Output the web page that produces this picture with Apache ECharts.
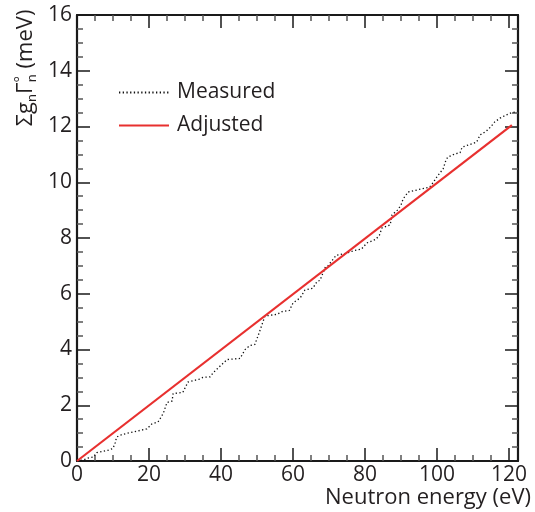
<!DOCTYPE html>
<html>
<head>
<meta charset="utf-8">
<script src="https://cdn.jsdelivr.net/npm/echarts@6/dist/echarts.min.js"></script>
<style>html,body{margin:0;padding:0;background:#fff}#c{width:535px;height:512px}</style>
</head>
<body>
<div id="c"></div>
<script>
// Measured cumulative sum (energy in eV, sum in meV)
var measuredE = [0, 2, 3, 4.5, 5.5, 8.5, 10, 10.6, 11, 12.5, 15.5, 19.4, 20.8, 22.5, 23, 24, 25, 26.4, 26.7, 29.4,
  30.8, 34, 35, 37, 37.8, 39.7, 41.7, 45.3, 46.7, 48, 49.4, 50.6, 52.2, 55.5, 57, 59, 60, 62, 63.3, 65.5,
  66.7, 67.5, 69, 69.7, 72, 75, 77, 79, 80.5, 83, 84, 84.7, 87, 87.5, 89, 90, 90.6, 92, 98, 99,
  100, 101.7, 102.5, 103, 105, 106.4, 107, 111, 112, 113.3, 114, 115, 116, 117.5, 119, 120.8, 122];
var measuredSum = [0, 0.05, 0.1, 0.14, 0.3, 0.38, 0.45, 0.65, 0.86, 0.95, 1.04, 1.15, 1.33, 1.4, 1.5, 1.72, 2.1, 2.15, 2.42, 2.46,
  2.83, 2.94, 3.0, 3.02, 3.16, 3.4, 3.64, 3.68, 4.0, 4.14, 4.18, 4.6, 5.2, 5.26, 5.36, 5.4, 5.67, 5.85, 6.13, 6.2,
  6.44, 6.48, 6.96, 7.0, 7.38, 7.46, 7.55, 7.6, 7.82, 7.95, 8.1, 8.36, 8.47, 8.83, 9.0, 9.18, 9.4, 9.65, 9.83, 10.0,
  10.2, 10.48, 10.8, 10.9, 11.02, 11.06, 11.26, 11.44, 11.7, 11.8, 11.87, 12.0, 12.16, 12.3, 12.4, 12.5, 12.52];
// Adjusted straight line
var adjustedE = [0, 120.8];
var adjustedSum = [0, 12.05];

var xMin = 0, xMax = 122.5, xInterval = 20;
var yMin = 0, yMax = 16, yInterval = 2;

function zip(a, b) { return a.map(function (v, i) { return [v, b[i]]; }); }

var FONT = '"Open Sans", "Noto Sans", sans-serif';
var TXT = '#231f20';

function axisCommon(extra) {
  var base = {
    type: 'value',
    axisLine: { show: true, onZero: false, lineStyle: { color: '#1a1a1a', width: 2.2 } },
    axisTick: { show: true, inside: true, length: 13, lineStyle: { color: '#1a1a1a', width: 1.5 } },
    minorTick: { show: true, splitNumber: 4, length: 6, lineStyle: { color: '#555', width: 1.5 } },
    splitLine: { show: false },
    minorSplitLine: { show: false }
  };
  for (var k in extra) base[k] = extra[k];
  return base;
}

var chart = echarts.init(document.getElementById('c'), null, { renderer: 'canvas' });
chart.setOption({
  backgroundColor: '#fff',
  animation: false,
  grid: { left: 77, right: 17, top: 15, bottom: 51, outerBoundsMode: 'none', containLabel: false },
  xAxis: [
    axisCommon({ position: 'bottom', min: xMin, max: xMax, interval: xInterval,
      axisLabel: { show: true, margin: 4, fontSize: 21, color: TXT, fontFamily: FONT, showMaxLabel: false } }),
    axisCommon({ position: 'top', min: xMin, max: xMax, interval: xInterval,
      axisLabel: { show: false } })
  ],
  yAxis: [
    axisCommon({ position: 'left', min: yMin, max: yMax, interval: yInterval,
      axisLabel: { show: true, margin: 5, fontSize: 21, color: TXT, fontFamily: FONT } }),
    axisCommon({ position: 'right', min: yMin, max: yMax, interval: yInterval,
      axisLabel: { show: false } })
  ],
  legend: {
    orient: 'vertical', left: 118, top: 82, padding: 0,
    itemWidth: 50, itemHeight: 14, itemGap: 12,
    itemStyle: { opacity: 0 },
    textStyle: { fontSize: 21, color: TXT, fontFamily: FONT, padding: [0, 0, 0, 3] },
    data: ['Measured', 'Adjusted']
  },
  series: [
    {
      name: 'Measured', type: 'line', xAxisIndex: 0, yAxisIndex: 0,
      symbol: 'none', showSymbol: false,
      lineStyle: { color: '#111', width: 1.3, type: [1.3, 2.4] },
      data: zip(measuredE, measuredSum), z: 2
    },
    {
      name: 'Adjusted', type: 'line', xAxisIndex: 0, yAxisIndex: 0,
      symbol: 'none', showSymbol: false,
      lineStyle: { color: '#e8302f', width: 2.2 },
      data: zip(adjustedE, adjustedSum), z: 3
    }
  ],
  graphic: [
    {
      type: 'text', x: 531, y: 498,
      style: { text: 'Neutron energy (eV)', fill: TXT, font: '22px ' + FONT, align: 'right', verticalAlign: 'middle' }
    },
    {
      type: 'text', x: 26, y: 68, rotation: Math.PI / 2,
      style: {
        text: '{a|Σg}{s|n}{a|Γ}{u|°}{s|n}{a| (meV)}',
        fill: TXT, align: 'center', verticalAlign: 'middle',
        rich: {
          a: { fontSize: 22, fontFamily: FONT, lineHeight: 30, fill: TXT, verticalAlign: 'middle' },
          s: { fontSize: 13, fontFamily: FONT, lineHeight: 30, fill: TXT, verticalAlign: 'bottom', padding: [0, 0, 2, 0] },
          u: { fontSize: 15, fontFamily: FONT, lineHeight: 30, fill: TXT, verticalAlign: 'top', padding: [2, -6, 0, 0] }
        }
      }
    }
  ]
});
</script>
</body>
</html>
